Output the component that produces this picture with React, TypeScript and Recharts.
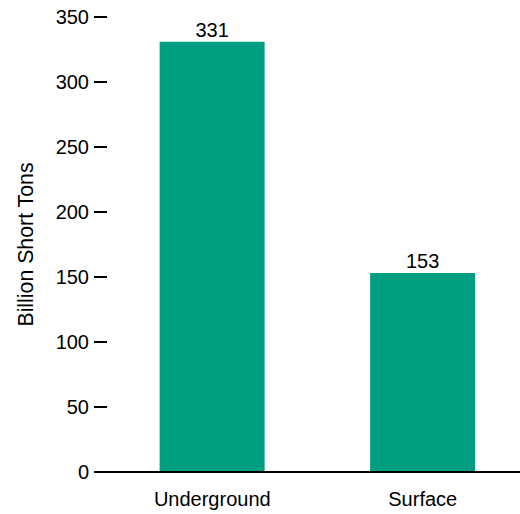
import React from "react";
import { BarChart, Bar, XAxis, YAxis, LabelList } from "recharts";

const categories = ["Underground", "Surface"];
const values = [331, 153];
const yTicks = [0, 50, 100, 150, 200, 250, 300, 350];

const data = categories.map((c, i) => ({ name: c, value: values[i] }));

const FONT = "'Liberation Sans', Arial, Helvetica, sans-serif";

export default function App() {
  return (
    <div
      style={{
        position: "absolute",
        left: 0,
        top: 0,
        width: 520,
        height: 514,
        overflow: "hidden",
        background: "#fff",
      }}
    >
      <BarChart
        width={530}
        height={514}
        data={data}
        margin={{ top: 17, right: 2, left: 0, bottom: 0 }}
        barCategoryGap="25%"
      >
        <XAxis
          dataKey="name"
          height={42}
          tickLine={false}
          tickSize={0}
          tickMargin={20}
          axisLine={{ stroke: "#000", strokeWidth: 2 }}
          tick={{ fill: "#000", fontSize: 20, fontFamily: FONT }}
        />
        <YAxis
          width={107}
          domain={[0, 350]}
          ticks={yTicks}
          axisLine={false}
          tickSize={13}
          tickMargin={5}
          tickLine={{ stroke: "#000", strokeWidth: 2 }}
          tick={{ fill: "#000", fontSize: 20, fontFamily: FONT }}
          label={{
            value: "Billion Short Tons",
            angle: -90,
            position: "insideLeft",
            offset: 25,
            style: { textAnchor: "middle", fill: "#000", fontSize: 21.3, fontFamily: FONT },
          }}
        />
        <Bar dataKey="value" fill="#009E81" isAnimationActive={false}>
          <LabelList
            dataKey="value"
            position="top"
            offset={5}
            fill="#000"
            fontSize={20}
            fontFamily={FONT}
          />
        </Bar>
      </BarChart>
    </div>
  );
}
